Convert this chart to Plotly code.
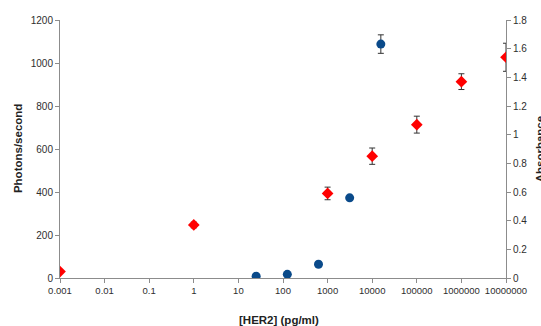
import plotly.graph_objects as go

# Data
blue_x = [25, 125, 625, 3125, 15625]
blue_y = [8, 17, 64, 373, 1088]
blue_err = [0, 0, 0, 0, 43]

red_x = [0.001, 1, 1000, 10000, 100000, 1000000, 10000000]
red_y = [0.045, 0.37, 0.59, 0.85, 1.07, 1.37, 1.54]
red_err = [0, 0.02, 0.044, 0.057, 0.059, 0.055, 0.098]

x_tickvals = [0.001, 0.01, 0.1, 1, 10, 100, 1000, 10000, 100000, 1000000, 10000000]
x_ticktext = ["0.001", "0.01", "0.1", "1", "10", "100", "1000", "10000",
              "100000", "1000000", "10000000"]

FONT = "Liberation Sans, Arial, sans-serif"
AXIS_COLOR = "#8c8c8c"
TEXT_COLOR = "#2e2e2e"

fig = go.Figure()

fig.add_trace(go.Scatter(
    x=blue_x, y=blue_y, mode="markers",
    marker=dict(symbol="circle", size=9, color="#0a4a8a"),
    error_y=dict(type="data", array=blue_err, visible=True,
                 color="#333333", thickness=1, width=3),
    yaxis="y", showlegend=False,
))

fig.add_trace(go.Scatter(
    x=red_x, y=red_y, mode="markers",
    marker=dict(symbol="diamond", size=9, color="#ff0000"),
    error_y=dict(type="data", array=red_err, visible=True,
                 color="#333333", thickness=1, width=3),
    yaxis="y2", showlegend=False,
))

fig.update_layout(
    width=541, height=326,
    margin=dict(l=60, r=35, t=20, b=48),
    paper_bgcolor="white", plot_bgcolor="white",
    font=dict(family=FONT, color=TEXT_COLOR, size=10),
    xaxis=dict(
        type="log", range=[-3, 7],
        tickvals=x_tickvals, ticktext=x_ticktext,
        showgrid=False, zeroline=False,
        showline=True, linecolor=AXIS_COLOR, linewidth=1,
        ticks="outside", ticklen=4, tickcolor=AXIS_COLOR,
        tickfont=dict(size=9.5, color=TEXT_COLOR),
    ),
    yaxis=dict(
        range=[0, 1200], dtick=200,
        showgrid=False, zeroline=False,
        showline=True, linecolor=AXIS_COLOR, linewidth=1,
        ticks="outside", ticklen=4, tickcolor=AXIS_COLOR,
        tickfont=dict(size=10, color=TEXT_COLOR),
    ),
    yaxis2=dict(
        range=[0, 1.8], dtick=0.2, overlaying="y", side="right",
        showgrid=False, zeroline=False,
        showline=True, linecolor=AXIS_COLOR, linewidth=1,
        ticks="outside", ticklen=4, tickcolor=AXIS_COLOR,
        tickfont=dict(size=10, color=TEXT_COLOR),
    ),
    annotations=[
        dict(text="<b>Photons/second</b>", xref="paper", yref="paper",
             x=-0.094, y=0.5, xanchor="center", yanchor="middle",
             textangle=-90, showarrow=False,
             font=dict(size=11.5, color="#222222", family=FONT)),
        dict(text="<b>Absorbance</b>", xref="paper", yref="paper",
             x=1.077, y=0.5, xanchor="center", yanchor="middle",
             textangle=-90, showarrow=False,
             font=dict(size=11.5, color="#222222", family=FONT)),
        dict(text="<b>[HER2] (pg/ml)</b>", xref="paper", yref="paper",
             x=0.49, y=-0.163, xanchor="center", yanchor="middle",
             showarrow=False,
             font=dict(size=11.5, color="#222222", family=FONT)),
    ],
)

fig.write_html(
    "out.html",
    config={"displayModeBar": False},
    post_script="document.body.style.margin='0px';document.body.style.overflow='hidden';",
)
